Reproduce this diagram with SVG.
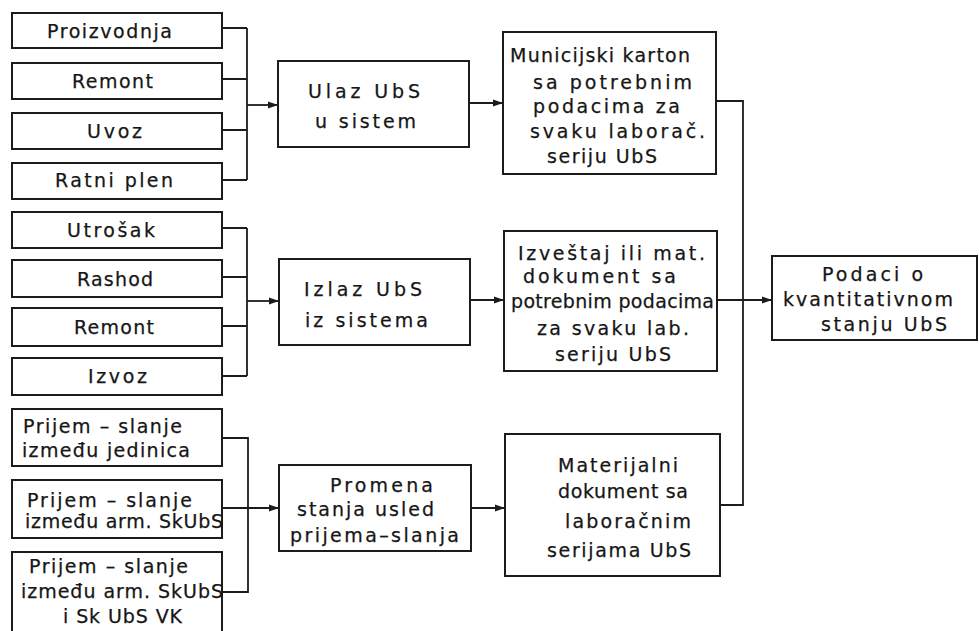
<svg xmlns="http://www.w3.org/2000/svg" width="979" height="631" viewBox="0 0 979 631">
<style>
.box{fill:#fff;stroke:#1c1c1c;stroke-width:2}
.t{font-family:"DejaVu Sans","Liberation Sans",sans-serif;font-size:19px;fill:#161616;stroke:#161616;stroke-width:0.25}
.c{fill:none;stroke:#1c1c1c;stroke-width:1.8}
</style>
<defs>
<marker id="ah" viewBox="0 0 10 8" refX="10" refY="4" markerWidth="10" markerHeight="8" markerUnits="userSpaceOnUse" orient="auto">
<path d="M0,0.5 L10,4 L0,7.5 Z" fill="#1c1c1c"/>
</marker>
</defs>
<rect width="979" height="631" fill="#fff"/>
<g id="connectors">
<path class="c" d="M222,28 H247 M222,79 H247 M222,130 H247 M222,180 H247 M247,28 V180"/>
<path class="c" d="M247,105 H278" marker-end="url(#ah)"/>
<path class="c" d="M469,103 H503" marker-end="url(#ah)"/>
<path class="c" d="M716,101 H743 V505 H720"/>
<path class="c" d="M222,228 H247 M222,277 H247 M222,326 H247 M222,376 H247 M247,228 V376"/>
<path class="c" d="M247,301 H279" marker-end="url(#ah)"/>
<path class="c" d="M470,300 H504" marker-end="url(#ah)"/>
<path class="c" d="M717,300 H772" marker-end="url(#ah)"/>
<path class="c" d="M222,438 H248 V592 H222"/>
<path class="c" d="M222,508 H279" marker-end="url(#ah)"/>
<path class="c" d="M471,508 H505" marker-end="url(#ah)"/>
</g>
<g id="n-proizvodnja"><rect class="box" x="12" y="13" width="210" height="35"/><text class="t" x="47" y="38" textLength="125" lengthAdjust="spacing">Proizvodnja</text></g>
<g id="n-remont1"><rect class="box" x="12" y="63" width="210" height="36"/><text class="t" x="72" y="88" textLength="81" lengthAdjust="spacing">Remont</text></g>
<g id="n-uvoz"><rect class="box" x="12" y="113" width="210" height="36"/><text class="t" x="87" y="138" textLength="55" lengthAdjust="spacing">Uvoz</text></g>
<g id="n-ratniplen"><rect class="box" x="12" y="163" width="210" height="36"/><text class="t" x="55" y="187" textLength="118" lengthAdjust="spacing">Ratni plen</text></g>
<g id="n-utrosak"><rect class="box" x="12" y="212" width="210" height="36"/><text class="t" x="67" y="237" textLength="88" lengthAdjust="spacing">Utrošak</text></g>
<g id="n-rashod"><rect class="box" x="12" y="260" width="210" height="37"/><text class="t" x="77" y="286" textLength="76" lengthAdjust="spacing">Rashod</text></g>
<g id="n-remont2"><rect class="box" x="12" y="308" width="210" height="38"/><text class="t" x="74" y="334" textLength="80" lengthAdjust="spacing">Remont</text></g>
<g id="n-izvoz"><rect class="box" x="12" y="358" width="210" height="37"/><text class="t" x="88" y="383" textLength="59" lengthAdjust="spacing">Izvoz</text></g>
<g id="n-prijem1"><rect class="box" x="12" y="409" width="210" height="57"/>
<text class="t" x="23" y="433" textLength="159" lengthAdjust="spacing">Prijem – slanje</text>
<text class="t" x="22" y="457" textLength="168" lengthAdjust="spacing">između jedinica</text></g>
<g id="n-prijem2"><rect class="box" x="12" y="480" width="210" height="58"/>
<text class="t" x="27" y="507" textLength="165" lengthAdjust="spacing">Prijem – slanje</text>
<text class="t" x="25" y="528" textLength="198" lengthAdjust="spacing">između arm. SkUbS</text></g>
<g id="n-prijem3"><rect class="box" x="12" y="552" width="210" height="92"/>
<text class="t" x="29" y="573" textLength="159" lengthAdjust="spacing">Prijem – slanje</text>
<text class="t" x="21" y="598" textLength="202" lengthAdjust="spacing">između arm. SkUbS</text>
<text class="t" x="63" y="623" textLength="119" lengthAdjust="spacing">i Sk UbS VK</text></g>
<g id="n-ulaz"><rect class="box" x="278" y="61" width="191" height="86"/>
<text class="t" x="308" y="98" textLength="112" lengthAdjust="spacing">Ulaz UbS</text>
<text class="t" x="315" y="128" textLength="101" lengthAdjust="spacing">u sistem</text></g>
<g id="n-izlaz"><rect class="box" x="279" y="259" width="191" height="86"/>
<text class="t" x="304" y="296" textLength="118" lengthAdjust="spacing">Izlaz UbS</text>
<text class="t" x="305" y="327" textLength="123" lengthAdjust="spacing">iz sistema</text></g>
<g id="n-promena"><rect class="box" x="279" y="465" width="192" height="86"/>
<text class="t" x="330" y="492" textLength="103" lengthAdjust="spacing">Promena</text>
<text class="t" x="297" y="516" textLength="137" lengthAdjust="spacing">stanja usled</text>
<text class="t" x="290" y="542" textLength="169" lengthAdjust="spacing">prijema–slanja</text></g>
<g id="n-municijski"><rect class="box" x="503" y="32" width="213" height="142"/>
<text class="t" x="510" y="62" textLength="180" lengthAdjust="spacing">Municijski karton</text>
<text class="t" x="533" y="89" textLength="159" lengthAdjust="spacing">sa potrebnim</text>
<text class="t" x="533" y="113" textLength="147" lengthAdjust="spacing">podacima za</text>
<text class="t" x="530" y="138" textLength="175" lengthAdjust="spacing">svaku laborač.</text>
<text class="t" x="547" y="163" textLength="110" lengthAdjust="spacing">seriju UbS</text></g>
<g id="n-izvestaj"><rect class="box" x="504" y="231" width="213" height="140"/>
<text class="t" x="518" y="260" textLength="187" lengthAdjust="spacing">Izveštaj ili mat.</text>
<text class="t" x="523" y="283" textLength="153" lengthAdjust="spacing">dokument sa</text>
<text class="t" x="511" y="308" textLength="203" lengthAdjust="spacing">potrebnim podacima</text>
<text class="t" x="537" y="335" textLength="152" lengthAdjust="spacing">za svaku lab.</text>
<text class="t" x="555" y="361" textLength="116" lengthAdjust="spacing">seriju UbS</text></g>
<g id="n-materijalni"><rect class="box" x="505" y="434" width="215" height="142"/>
<text class="t" x="558" y="472" textLength="120" lengthAdjust="spacing">Materijalni</text>
<text class="t" x="558" y="498" textLength="130" lengthAdjust="spacing">dokument sa</text>
<text class="t" x="565" y="528" textLength="126" lengthAdjust="spacing">laboračnim</text>
<text class="t" x="547" y="557" textLength="144" lengthAdjust="spacing">serijama UbS</text></g>
<g id="n-podaci"><rect class="box" x="772" y="256" width="205" height="84"/>
<text class="t" x="822" y="281" textLength="101" lengthAdjust="spacing">Podaci o</text>
<text class="t" x="783" y="306" textLength="170" lengthAdjust="spacing">kvantitativnom</text>
<text class="t" x="821" y="331" textLength="126" lengthAdjust="spacing">stanju UbS</text></g>
</svg>
